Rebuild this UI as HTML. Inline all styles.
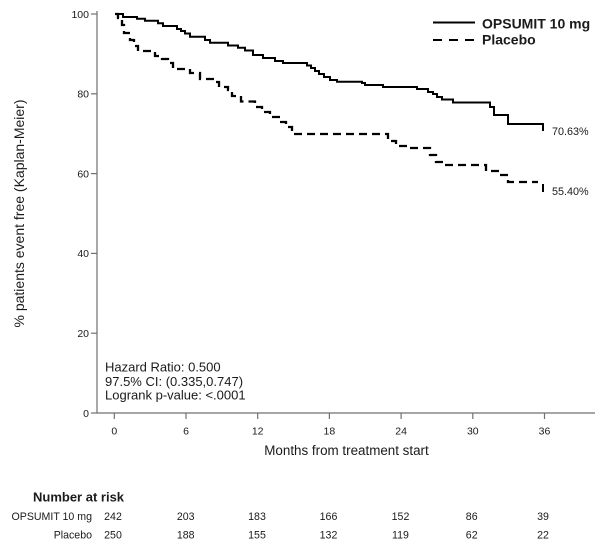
<!DOCTYPE html>
<html>
<head>
<meta charset="utf-8">
<style>
html,body{margin:0;padding:0;background:#fff;}
svg{display:block;}
text{font-family:"Liberation Sans",Arial,sans-serif;fill:#1a1a1a;}
</style>
</head>
<body>
<svg width="609" height="544" viewBox="0 0 609 544" xmlns="http://www.w3.org/2000/svg">
<rect width="609" height="544" fill="#fff"/>
<!-- axes -->
<g stroke="#707070" stroke-width="1.2" fill="none">
<line x1="97" y1="11" x2="97" y2="413.5"/>
<line x1="96.5" y1="413" x2="595" y2="413"/>
<!-- y ticks -->
<line x1="91" y1="14" x2="97" y2="14"/>
<line x1="91" y1="93.8" x2="97" y2="93.8"/>
<line x1="91" y1="173.6" x2="97" y2="173.6"/>
<line x1="91" y1="253.4" x2="97" y2="253.4"/>
<line x1="91" y1="333.2" x2="97" y2="333.2"/>
<line x1="91" y1="413" x2="97" y2="413"/>
<!-- x ticks -->
<line x1="114.3" y1="413" x2="114.3" y2="419"/>
<line x1="186" y1="413" x2="186" y2="419"/>
<line x1="257.7" y1="413" x2="257.7" y2="419"/>
<line x1="329.4" y1="413" x2="329.4" y2="419"/>
<line x1="401.1" y1="413" x2="401.1" y2="419"/>
<line x1="472.8" y1="413" x2="472.8" y2="419"/>
<line x1="544.5" y1="413" x2="544.5" y2="419"/>
</g>
<!-- y tick labels -->
<g font-size="10.5" text-anchor="end">
<text x="89" y="17.8">100</text>
<text x="89" y="97.6">80</text>
<text x="89" y="177.4">60</text>
<text x="89" y="257.2">40</text>
<text x="89" y="337">20</text>
<text x="89" y="416.8">0</text>
</g>
<!-- x tick labels -->
<g font-size="10.5" text-anchor="middle">
<text x="114.3" y="434.5">0</text>
<text x="186" y="434.5">6</text>
<text x="257.7" y="434.5">12</text>
<text x="329.4" y="434.5">18</text>
<text x="401.1" y="434.5">24</text>
<text x="472.8" y="434.5">30</text>
<text x="544.5" y="434.5">36</text>
</g>
<text x="346.5" y="455" font-size="13.4" text-anchor="middle">Months from treatment start</text>
<text transform="translate(24,213.5) rotate(-90)" font-size="14" text-anchor="middle">% patients event free (Kaplan-Meier)</text>

<!-- solid curve -->
<path d="M115,14 H123 V17 H137 V18.7 H145 V20.7 H158 V23.3 H163 V26 H177 V29 H181 V31 H185 V33.5 H190 V36.7 H205 V40 H210 V42.7 H228 V45.5 H238 V47.7 H245 V50.5 H253 V55 H263 V58 H275 V61 H283 V63 H307 V65.5 H311 V68 H315 V71 H319 V74 H324 V77 H330 V80 H337 V81.7 H362 V83 H365 V85 H383 V87 H417 V89 H428 V92 H433 V94 H437 V97 H442 V99.5 H453 V102.5 H490 V107 H494 V115 H508 V124 H543 V131" fill="none" stroke="#000" stroke-width="2"/>
<!-- dashed curve -->
<path d="M115,14 H118 V18 H122 V25 H124 V33 H130 V40 H134 V46 H138 V51 H155 V56 H162 V59 H168 V63 H173 V69 H190 V73 H200 V79 H215 V82 H219 V87 H228 V90 H232 V96 H241 V101.5 H255 V107 H262 V112 H270 V117 H280 V122 H286 V127 H292 V134 H388 V141 H396 V146 H408 V148 H430 V155 H436 V162 H445 V165 H486 V171 H500 V175 H508 V182 H538" fill="none" stroke="#000" stroke-width="2.3" stroke-dasharray="8,5"/>
<line x1="543" y1="184" x2="543" y2="192" stroke="#000" stroke-width="2"/>

<!-- end labels -->
<text x="552" y="135" font-size="10.8">70.63%</text>
<text x="552" y="195" font-size="10.8">55.40%</text>

<!-- legend -->
<line x1="433" y1="22.5" x2="475" y2="22.5" stroke="#000" stroke-width="2"/>
<line x1="433" y1="40" x2="475" y2="40" stroke="#000" stroke-width="2" stroke-dasharray="9,7"/>
<text x="482" y="28.3" font-size="14" font-weight="bold">OPSUMIT 10 mg</text>
<text x="482" y="44.3" font-size="14" font-weight="bold">Placebo</text>

<!-- stats -->
<g font-size="13">
<text x="105" y="371.7">Hazard Ratio: 0.500</text>
<text x="105" y="385.8">97.5% CI: (0.335,0.747)</text>
<text x="105" y="399.5">Logrank p-value: &lt;.0001</text>
</g>

<!-- number at risk -->
<text x="33" y="501.7" font-size="13" font-weight="bold">Number at risk</text>
<g font-size="10.6">
<text x="92" y="520" text-anchor="end">OPSUMIT 10 mg</text>
<text x="92" y="538.3" text-anchor="end">Placebo</text>
</g>
<g font-size="10.6" text-anchor="middle">
<text x="113" y="520">242</text>
<text x="185.7" y="520">203</text>
<text x="257" y="520">183</text>
<text x="328.5" y="520">166</text>
<text x="400.5" y="520">152</text>
<text x="471.7" y="520">86</text>
<text x="543" y="520">39</text>
<text x="113" y="538.3">250</text>
<text x="185.7" y="538.3">188</text>
<text x="257" y="538.3">155</text>
<text x="328.5" y="538.3">132</text>
<text x="400.5" y="538.3">119</text>
<text x="471.7" y="538.3">62</text>
<text x="543" y="538.3">22</text>
</g>
</svg>
</body>
</html>
